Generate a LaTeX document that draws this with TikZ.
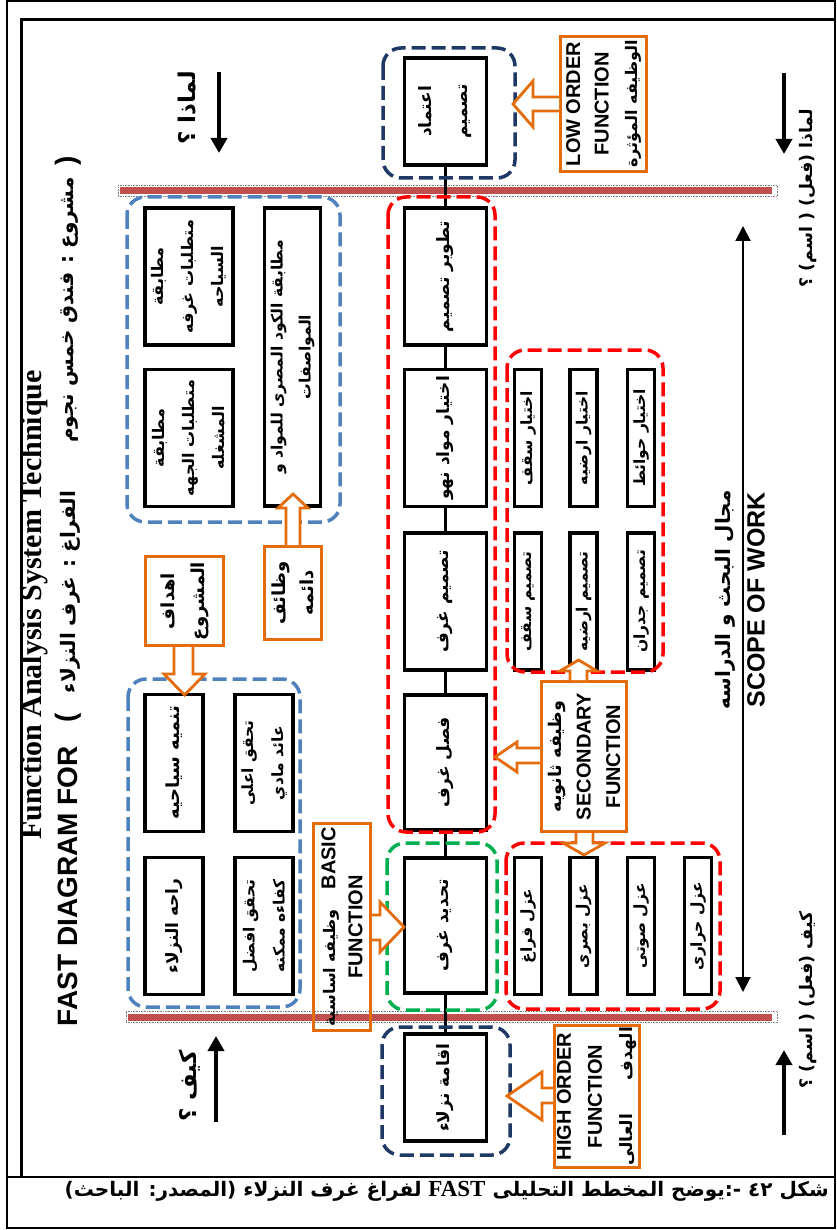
\documentclass[tikz,border=0pt]{standalone}
\usepackage{fontspec}
\usetikzlibrary{arrows.meta}
\TeXXeTstate=1
\setmainfont{Liberation Serif}
\newfontfamily\arb[Script=Arabic]{DejaVu Sans}
\newfontfamily\hv{Liberation Sans}
\newfontfamily\tms{Liberation Serif}
\newcommand{\AR}[1]{\beginR #1\endR}
\definecolor{navyd}{HTML}{1F3864}
\definecolor{blued}{HTML}{4F81BD}
\definecolor{redd}{HTML}{FF0000}
\definecolor{greend}{HTML}{00B050}
\definecolor{orng}{HTML}{E46C0A}
\definecolor{brick}{HTML}{C0504D}
\begin{document}
\begin{tikzpicture}[x=1pt,y=-1pt,
  fbox/.style={draw=black, line width=3.5pt, fill=white, rotate=90, inner sep=0pt,
    align=center, font=\arb\bfseries\fontsize{17}{36}\selectfont},
  nbox/.style={fbox, font=\arb\bfseries\fontsize{15.5}{20}\selectfont},
  lbox/.style={fbox, font=\arb\bfseries\fontsize{16}{30}\selectfont},
  grp/.style={line width=3.5pt, dash pattern=on 14pt off 6pt, rounded corners=18pt},
  callout/.style={draw=orng, line width=2.8pt, rotate=90, inner sep=0pt, align=center},
  blockarrow/.style={draw=orng, line width=2.8pt, fill=white, line join=miter},
  chain/.style={line width=3pt},
  dirarrow/.style={line width=4pt, -{Triangle[length=15pt,width=16pt]}},
  scopearrow/.style={line width=2pt, {Triangle[length=15pt,width=15pt]}-{Triangle[length=15pt,width=15pt]}},
  lbl/.style={rotate=90, inner sep=0pt},
  arlbl/.style={lbl, font=\arb\bfseries\fontsize{17.3}{20}\selectfont}
]
\useasboundingbox (0,0) rectangle (836,1230);

% frame and caption row
\draw[line width=2pt] (7,1.5) rectangle (834.5,1228);
\draw[line width=3pt] (21,1177) -- (21,20) -- (834.5,20);
\draw[line width=2.5pt] (7,1177) -- (834.5,1177);

% limit lines of the scope
\fill[brick] (120,187.5) rectangle (772,194.5);
\draw[densely dotted, line width=0.6pt, gray] (118,185.5) rectangle (777,196.5);
\fill[brick] (128,1013.5) rectangle (772,1020.5);
\draw[densely dotted, line width=0.6pt, gray] (126,1011.5) rectangle (777,1022.5);

% main function chain
\node[fbox, minimum width=107, minimum height=82] (d1) at (445.5,111.5) {\AR{اعتماد}\\\AR{تصميم}};
\node[fbox, minimum width=137, minimum height=82] (d2) at (445.5,276.5) {\AR{تطوير تصميم}};
\node[fbox, minimum width=137, minimum height=82] (d3) at (445.5,438) {\AR{اختيار مواد نهو}};
\node[fbox, minimum width=137, minimum height=82] (d4) at (445.5,601.5) {\AR{تصميم غرف}};
\node[fbox, minimum width=135, minimum height=82] (d5) at (445.5,762.5) {\AR{فصل غرف}};
\node[fbox, minimum width=135, minimum height=82] (d6) at (445.5,925.5) {\AR{تحديد غرف}};
\node[fbox, minimum width=107, minimum height=82] (d7) at (445.5,1087.5) {\AR{اقامة نزلاء}};
\draw[chain] (d1) -- (d2);
\draw[chain] (d2) -- (d3);
\draw[chain] (d3) -- (d4);
\draw[chain] (d4) -- (d5);
\draw[chain] (d5) -- (d6);
\draw[chain] (d6) -- (d7);

% secondary functions: selection and design
\node[nbox, minimum width=137, minimum height=27] (s11) at (528,438) {\AR{اختيار سقف}};
\node[nbox, minimum width=137, minimum height=27] (s12) at (583.5,438) {\AR{اختيار ارضيه}};
\node[nbox, minimum width=137, minimum height=27] (s13) at (641,438) {\AR{اختيار حوائط}};
\node[nbox, minimum width=137, minimum height=27] (s21) at (528,601.5) {\AR{تصميم سقف}};
\node[nbox, minimum width=137, minimum height=27] (s22) at (583.5,601.5) {\AR{تصميم ارضيه}};
\node[nbox, minimum width=137, minimum height=27] (s23) at (641,601.5) {\AR{تصميم جدران}};

% secondary functions: insulation
\node[nbox, minimum width=137, minimum height=27] (i1) at (528,926) {\AR{عزل فراغ}};
\node[nbox, minimum width=137, minimum height=27] (i2) at (583.5,926) {\AR{عزل بصرى}};
\node[nbox, minimum width=137, minimum height=27] (i3) at (641,926) {\AR{عزل صوتى}};
\node[nbox, minimum width=137, minimum height=27] (i4) at (698,926) {\AR{عزل حرارى}};

% all-time functions
\node[lbox, minimum width=137, minimum height=88] (a1) at (189,276.5) {\AR{مطابقة}\\\AR{متطلبات غرفه}\\\AR{السياحه}};
\node[lbox, minimum width=137, minimum height=88] (a2) at (189,438) {\AR{مطابقة}\\\AR{متطلبات الجهه}\\\AR{المشغله}};
\node[lbox, minimum width=298, minimum height=56, font=\arb\bfseries\fontsize{15.6}{28}\selectfont] (a3) at (292.5,357) {\AR{مطابقة الكود المصرى للمواد و}\\\AR{المواصفات}};

% project objectives
\node[fbox, minimum width=137, minimum height=58, font=\arb\bfseries\fontsize{18}{30}\selectfont] (o1) at (174,763) {\AR{تنميه سياحيه}};
\node[lbox, minimum width=137, minimum height=58, font=\arb\bfseries\fontsize{15.5}{30}\selectfont] (o2) at (264,763) {\AR{تحقق اعلى}\\\AR{عائد مادي}};
\node[fbox, minimum width=137, minimum height=58] (o3) at (174,926) {\AR{راحه النزلاء}};
\node[lbox, minimum width=137, minimum height=58, font=\arb\bfseries\fontsize{15.5}{30}\selectfont] (o4) at (264,926) {\AR{تحقق افضل}\\\AR{كفاءه ممكنه}};

% dashed groupings
\draw[grp, navyd] (383,48) rectangle (515,178);
\draw[grp, redd] (388,197) rectangle (495,832);
\draw[grp, greend] (387,843) rectangle (497,1010);
\draw[grp, navyd] (382,1027) rectangle (510,1155);
\draw[grp, redd] (507,350) rectangle (663,672);
\draw[grp, redd] (506,843) rectangle (720,1009);
\draw[grp, blued] (127,197) rectangle (340,522);
\draw[grp, blued] (128,679) rectangle (300,1007);

% function type callouts
\node[callout, minimum width=135, minimum height=86, font=\bfseries\fontsize{20}{28.5}\selectfont] (low) at (603.5,104)
  {{\hv LOW ORDER}\\{\hv FUNCTION}\\{\arb\fontsize{16}{28.5}\selectfont\AR{الوظيفه المؤثرة}}};
\draw[blockarrow] (559,97) -- (533,97) -- (533,81) -- (513,104) -- (533,127) -- (533,111) -- (559,111);

\node[callout, minimum width=142, minimum height=85, font=\bfseries\fontsize{20}{31}\selectfont] (high) at (597,1096.5)
  {{\hv HIGH ORDER}\\{\hv FUNCTION}\\{\arb\fontsize{17}{31}\selectfont\AR{الهدف\hspace{34pt}العالى}}};
\draw[blockarrow] (553,1088) -- (542,1088) -- (542,1072) -- (507,1096) -- (542,1120) -- (542,1103) -- (553,1103);

\node[callout, minimum width=207, minimum height=57, font=\bfseries\fontsize{20}{27}\selectfont] (basic) at (342,927)
  {{\arb\fontsize{16}{27}\selectfont\AR{وظيفه اساسية}}\hspace{20pt}{\hv BASIC}\\{\hv FUNCTION}};
\draw[blockarrow] (372,915) -- (380,915) -- (380,902) -- (404,927) -- (380,952) -- (380,940) -- (372,940);

\node[callout, minimum width=150, minimum height=85, font=\bfseries\fontsize{20}{29.5}\selectfont] (sec) at (584,756.5)
  {{\arb\fontsize{17.5}{29.5}\selectfont\AR{وظيفه ثانويه}}\\{\hv SECONDARY}\\{\hv FUNCTION}};
\draw[blockarrow] (570,680) -- (570,671) -- (560,671) -- (578.5,660) -- (597,671) -- (587,671) -- (587,680);
\draw[blockarrow] (540,748) -- (517,748) -- (517,742) -- (495,757) -- (517,772) -- (517,763) -- (540,763);
\draw[blockarrow] (576,833) -- (576,843) -- (563,843) -- (584,855) -- (605,843) -- (593,843) -- (593,833);

\node[callout, minimum width=89, minimum height=78, font=\arb\bfseries\fontsize{18}{30}\selectfont] (goals) at (184.5,601) {\AR{اهداف}\\\AR{المشروع}};
\draw[blockarrow] (174,647) -- (174,674) -- (164,674) -- (184.5,695) -- (205,674) -- (193,674) -- (193,647);

\node[callout, minimum width=93, minimum height=57, font=\arb\bfseries\fontsize{18}{28}\selectfont] (perm) at (293,593) {\AR{وظائف}\\\AR{دائمه}};
\draw[blockarrow] (286,545) -- (286,508) -- (278,508) -- (293,494) -- (308,508) -- (300,508) -- (300,545);

% how / why directions
\coordinate (w1a) at (219,72);  \coordinate (w1b) at (219,153);
\coordinate (w2a) at (784,73);  \coordinate (w2b) at (784,154);
\coordinate (h1a) at (216,1122); \coordinate (h1b) at (216,1036);
\coordinate (h2a) at (784,1135); \coordinate (h2b) at (784,1050);
\draw[dirarrow] (w1a) -- (w1b);
\draw[dirarrow] (w2a) -- (w2b);
\draw[dirarrow] (h1a) -- (h1b);
\draw[dirarrow] (h2a) -- (h2b);
\node[arlbl, font=\arb\bfseries\fontsize{23}{26}\selectfont] (why1) at (187,108) {\AR{لماذا ؟}};
\node[arlbl, font=\arb\bfseries\fontsize{23}{26}\selectfont] (how1) at (190,1086) {\AR{كيف ؟}};
\node[arlbl] (why2) at (808,198) {\AR{لماذا (فعل) ( اسم) ؟}};
\node[arlbl] (how2) at (808,1000) {\AR{كيف (فعل) ( اسم) ؟}};

% scope of work
\coordinate (sc1) at (743,226);
\coordinate (sc2) at (743,992);
\draw[scopearrow] (sc1) -- (sc2);
\node[arlbl, font=\arb\bfseries\fontsize{20}{22}\selectfont] (scar) at (725,600) {\AR{مجال البحث و الدراسه}};
\node[lbl, font=\hv\bfseries\fontsize{25}{28}\selectfont] (scen) at (756,600) {SCOPE OF WORK};

% titles
\node[lbl, font=\tms\bfseries\fontsize{30}{34}\selectfont] (title) at (34,605) {Function Analysis System Technique};
\node[lbl, font=\hv\bfseries\fontsize{28}{32}\selectfont] (fastfor) at (68,886) {FAST DIAGRAM FOR};
\node[lbl, font=\hv\bfseries\fontsize{28}{32}\selectfont] (lpar) at (68,718) {(};
\node[lbl, font=\arb\bfseries\fontsize{20}{24}\selectfont] (space) at (70,592) {\AR{الفراغ : غرف النزلاء}};
\node[lbl, font=\arb\bfseries\fontsize{20}{24}\selectfont] (proj) at (70,310) {\AR{مشروع : فندق خمس نجوم}};
\node[lbl, font=\hv\bfseries\fontsize{28}{32}\selectfont] (rpar) at (68,161) {)};

% caption
\node[anchor=east, inner sep=0pt, font=\arb\bfseries\fontsize{20}{24}\selectfont] (caption) at (829,1191)
  {\AR{شكل \beginL٤٢\endL{} -:يوضح المخطط التحليلى \beginL{\tms\bfseries\fontsize{23}{24}\selectfont FAST}\endL{} لفراغ غرف النزلاء (المصدر: الباحث)}};
\end{tikzpicture}
\end{document}
